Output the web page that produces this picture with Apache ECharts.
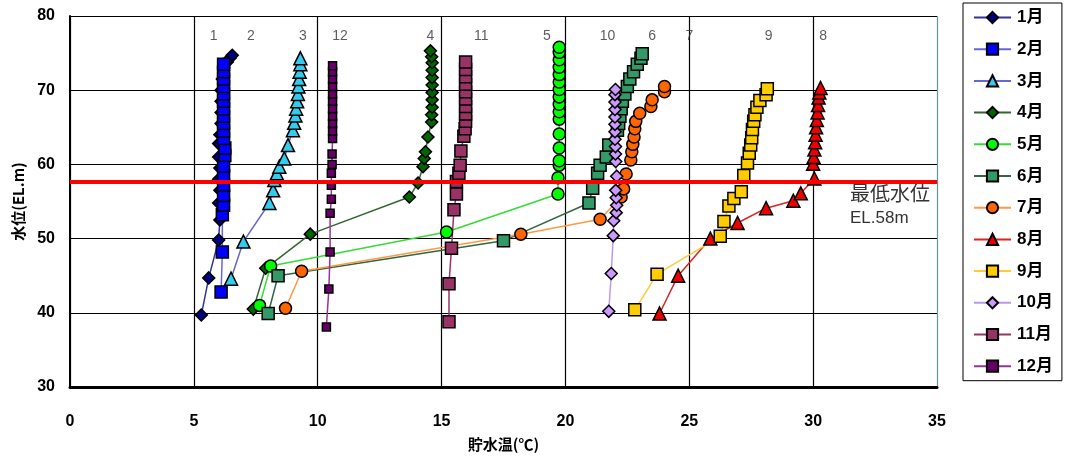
<!DOCTYPE html>
<html>
<head>
<meta charset="utf-8">
<script src="https://cdn.jsdelivr.net/npm/echarts@6/dist/echarts.min.js"></script>
<style>
html,body{margin:0;padding:0;background:#fff;}
#chart{width:1070px;height:460px;}
</style>
</head>
<body>
<div id="chart"></div>
<script>
// ---- data: [temperature (°C), elevation (EL.m)] ----
var monthNames = ['1月','2月','3月','4月','5月','6月','7月','8月','9月','10月','11月','12月'];

var jan = [[5.3,39.7],[5.6,44.7],[6.0,49.8],[6.05,52.5],[6.0,54.8],[6.05,56.5],[6.0,58.0],[6.05,59.5],[6.0,61.0],[6.0,62.8],[6.05,64.0],[6.1,65.5],[6.1,67.0],[6.1,68.5],[6.1,70.0],[6.15,71.5],[6.2,73.0],[6.35,73.8],[6.45,74.3],[6.55,74.7]];
var feb = [[6.1,42.8],[6.15,48.2],[6.15,53.2],[6.2,54.5],[6.2,55.8],[6.2,57.2],[6.2,58.5],[6.2,59.8],[6.25,61.2],[6.25,62.2],[6.2,63.5],[6.2,64.5],[6.2,65.5],[6.2,66.5],[6.2,67.5],[6.2,68.5],[6.2,69.5],[6.2,70.5],[6.2,71.5],[6.2,72.5],[6.2,73.5]];
var mar = [[6.5,44.6],[7.0,49.6],[8.05,54.8],[8.2,56.5],[8.25,57.9],[8.35,58.8],[8.45,59.7],[8.65,60.8],[8.8,62.6],[9.0,64.6],[9.05,65.6],[9.1,66.6],[9.13,67.5],[9.17,68.5],[9.2,69.5],[9.22,70.5],[9.25,71.5],[9.27,72.5],[9.3,73.5],[9.3,74.3]];
var apr = [[7.4,40.5],[7.9,46.0],[9.7,50.6],[13.7,55.6],[14.05,57.5],[14.25,59.7],[14.3,60.8],[14.35,61.7],[14.45,63.7],[14.6,65.7],[14.6,66.7],[14.62,67.7],[14.62,68.7],[14.62,69.7],[14.62,70.7],[14.62,71.7],[14.62,72.7],[14.62,73.7],[14.6,74.5],[14.55,75.3]];
var may = [[7.65,41.0],[8.1,46.3],[15.2,50.9],[19.7,56.0],[19.7,58.2],[19.75,59.9],[19.75,60.5],[19.75,62.2],[19.75,64.1],[19.75,66.1],[19.75,67.1],[19.75,68.1],[19.75,69.1],[19.75,70.1],[19.75,71.1],[19.75,72.1],[19.75,73.1],[19.75,74.1],[19.75,75.1],[19.75,75.8]];
var jun = [[8.0,39.9],[8.4,45.0],[17.5,49.7],[20.95,54.8],[21.1,56.8],[21.3,58.8],[21.4,59.9],[21.65,61.0],[21.75,62.6],[22.1,64.6],[22.15,65.5],[22.2,66.5],[22.25,67.5],[22.3,68.5],[22.4,69.5],[22.5,70.5],[22.6,71.5],[22.75,72.5],[22.9,73.5],[23.05,74.3],[23.1,74.9]];
var jul = [[8.7,40.6],[9.35,45.6],[18.2,50.6],[21.4,52.6],[22.25,55.6],[22.35,56.7],[22.45,58.7],[22.64,60.6],[22.68,61.7],[22.72,62.7],[22.77,63.7],[22.8,64.8],[22.84,65.8],[23.0,66.9],[23.45,67.8],[23.5,68.7],[24.0,69.8],[24.0,70.5]];
var aug = [[23.8,39.9],[24.55,45.0],[25.85,50.0],[26.95,52.1],[28.1,54.1],[29.2,55.1],[29.5,56.1],[30.05,58.1],[30.0,60.1],[30.02,61.0],[30.05,62.0],[30.08,63.0],[30.1,64.0],[30.12,65.0],[30.15,66.0],[30.18,67.0],[30.2,68.0],[30.22,69.0],[30.25,69.7],[30.3,70.3]];
var sep = [[22.8,40.4],[23.7,45.2],[26.25,50.3],[26.4,52.3],[26.6,54.4],[26.8,55.4],[27.1,56.3],[27.2,58.5],[27.35,60.2],[27.42,61.5],[27.48,62.6],[27.52,63.6],[27.55,64.7],[27.6,65.8],[27.65,66.7],[27.73,67.7],[27.85,68.6],[28.1,69.4],[28.15,70.2]];
var oct = [[21.75,40.2],[21.85,45.3],[21.93,50.4],[21.95,52.4],[22.05,53.5],[22.07,54.5],[22.05,55.5],[22.03,56.5],[22.07,58.4],[22.03,60.4],[22.02,61.4],[22.02,62.4],[22.0,63.4],[22.0,64.4],[22.0,65.4],[22.0,66.4],[22.0,67.4],[22.0,68.4],[22.0,69.4],[22.02,70.1]];
var nov = [[15.3,38.8],[15.3,43.9],[15.4,48.7],[15.5,53.9],[15.6,56.0],[15.6,57.7],[15.7,58.8],[15.75,59.9],[15.78,61.8],[15.9,63.8],[15.95,64.8],[15.97,65.8],[15.97,66.8],[15.97,67.8],[15.97,68.8],[15.97,69.8],[15.97,70.8],[15.97,71.8],[15.97,72.8],[15.97,73.8]];
var dec = [[10.35,38.1],[10.45,43.2],[10.5,48.2],[10.5,53.4],[10.55,55.3],[10.55,57.2],[10.55,58.8],[10.58,60.0],[10.58,61.4],[10.6,63.5],[10.6,64.5],[10.6,65.5],[10.6,66.5],[10.6,67.5],[10.6,68.5],[10.6,69.5],[10.6,70.5],[10.6,71.5],[10.6,72.5],[10.6,73.3]];

// curve tags written above each profile
var tagNames = ['1','2','3','12','4','11','5','10','6','7','9','8'];
var tagTemps = [5.8,7.3,9.4,10.9,14.55,16.6,19.25,21.7,23.5,25.0,28.2,30.4];
var tagElev = 77.3;

// minimum water level
var minLevel = 57.7;
var minLevelText = ['最低水位', 'EL.58m'];

var xTicks = {min:0, max:35, interval:5};
var yTicks = {min:30, max:80, interval:10};

// ---- styles ----
var monthData = [jan,feb,mar,apr,may,jun,jul,aug,sep,oct,nov,dec];
var styles = [
  {symbol:'diamond',  size:12, fill:'#000080', line:'#333399'},
  {symbol:'rect',     size:12, fill:'#0000ff', line:'#6666dd'},
  {symbol:'triangle', size:13, fill:'#33ccee', line:'#6666cc'},
  {symbol:'diamond',  size:12, fill:'#006600', line:'#336633'},
  {symbol:'circle',   size:12, fill:'#00ff00', line:'#33dd33'},
  {symbol:'rect',     size:12, fill:'#339966', line:'#336644'},
  {symbol:'circle',   size:12, fill:'#ff6600', line:'#ff9944'},
  {symbol:'triangle', size:13, fill:'#ee0000', line:'#dd2222'},
  {symbol:'rect',     size:12, fill:'#ffcc00', line:'#ffcc33'},
  {symbol:'diamond',  size:12, fill:'#cc99ff', line:'#bb99ee'},
  {symbol:'rect',     size:12, fill:'#993366', line:'#993366'},
  {symbol:'rect',     size:8,  fill:'#660066', line:'#993399'}
];

var series = monthData.map(function(d, i){
  var s = styles[i];
  return {
    name: monthNames[i],
    type: 'line',
    data: d,
    symbol: s.symbol,
    symbolSize: s.size,
    showAllSymbol: true,
    lineStyle: {color: s.line, width: 1.5},
    itemStyle: {color: s.fill, borderColor: '#000', borderWidth: 1.5},
    emphasis: {disabled: true},
    animation: false
  };
});

series.push({
  name: 'tags',
  type: 'scatter',
  symbolSize: 0,
  data: tagNames.map(function(n, i){ return {name: n, value: [tagTemps[i], tagElev]}; }),
  label: {show: true, position: 'inside', formatter: '{b}', color: '#333', fontSize: 14, fontFamily: 'Liberation Sans, Arial, sans-serif'},
  silent: true,
  animation: false
});

series.push({
  name: 'minLevel',
  type: 'line',
  data: [],
  silent: true,
  animation: false,
  markLine: {
    silent: true,
    symbol: ['none','none'],
    label: {show: false},
    lineStyle: {color: '#ff0000', width: 4, type: 'solid'},
    data: [{yAxis: minLevel}]
  }
});

var chart = echarts.init(document.getElementById('chart'), null, {renderer: 'canvas'});
var option = {
  backgroundColor: '#fff',
  animation: false,
  grid: {left: 70, right: 133, top: 16, bottom: 73},
  legend: {
    data: monthNames,
    orient: 'vertical',
    left: 963,
    top: 3,
    padding: [6, 9, 6, 10],
    itemWidth: 37,
    itemHeight: 14,
    itemGap: 14.7,
    borderColor: '#000',
    borderWidth: 1,
    backgroundColor: '#fff',
    textStyle: {color: '#000', fontSize: 17, lineHeight: 17, fontWeight: 'bold', padding: [0,0,0,1], fontFamily: 'Liberation Sans, Noto Sans CJK JP, sans-serif'}
  },
  xAxis: {
    type: 'value',
    min: xTicks.min, max: xTicks.max, interval: xTicks.interval,
    name: '貯水温(℃)',
    nameLocation: 'middle',
    nameGap: 50,
    nameTextStyle: {color: '#000', fontSize: 15, fontWeight: 'bold', fontFamily: 'Noto Sans CJK JP, sans-serif'},
    axisLine: {show: true, lineStyle: {color: '#000', width: 3}},
    axisTick: {show: false},
    axisLabel: {color: '#000', fontSize: 16, fontWeight: 'bold', margin: 27, fontFamily: 'Liberation Sans, Arial, sans-serif'},
    splitLine: {show: true, lineStyle: {color: ['#000','#000','#000','#000','#000','#000','#000','#5a9a9a'], width: 1.2}}
  },
  yAxis: {
    type: 'value',
    min: yTicks.min, max: yTicks.max, interval: yTicks.interval,
    name: '水位(EL.m)',
    nameLocation: 'middle',
    nameGap: 44,
    nameRotate: 90,
    nameTextStyle: {color: '#000', fontSize: 15, fontWeight: 'bold', fontFamily: 'Noto Sans CJK JP, sans-serif'},
    axisLine: {show: true, lineStyle: {color: '#000', width: 2}},
    axisTick: {show: false},
    axisLabel: {color: '#000', fontSize: 16, fontWeight: 'bold', margin: 15, fontFamily: 'Liberation Sans, Arial, sans-serif'},
    splitLine: {show: true, lineStyle: {color: ['#000','#000','#000','#000','#000','#000'], width: 1.2}}
  },
  series: series
};
chart.setOption(option);

// annotation placed next to the minimum level line, anchored via the axes
var p = chart.convertToPixel({gridIndex: 0}, [xTicks.max, minLevel]);
chart.setOption({
  graphic: [
    {type: 'text', left: p[0] - 87, top: p[1] + 2, style: {text: minLevelText[0], fill: '#333', font: '20px "Noto Sans CJK JP", sans-serif'}},
    {type: 'text', left: p[0] - 87, top: p[1] + 28, style: {text: minLevelText[1], fill: '#333', font: '17px "Liberation Sans", Arial, sans-serif'}}
  ]
});
</script>
</body>
</html>
